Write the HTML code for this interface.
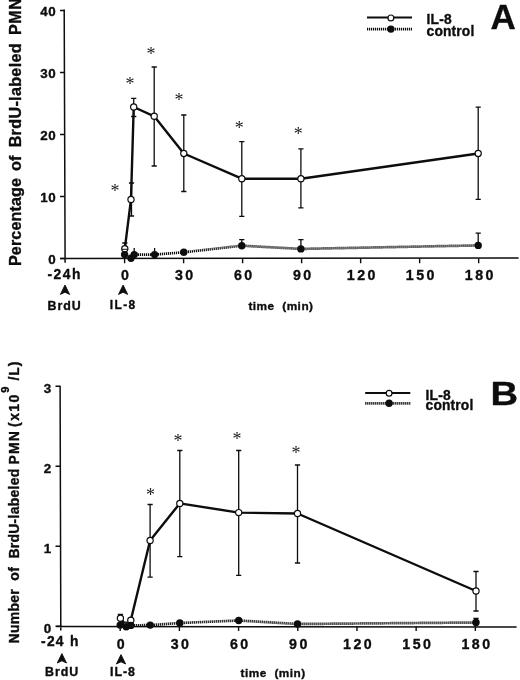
<!DOCTYPE html>
<html lang="en">
<head>
<meta charset="utf-8">
<title>BrdU-labeled PMN after IL-8</title>
<style>
html,body{margin:0;padding:0;background:#fff;}
body{width:520px;height:680px;overflow:hidden;}
svg{display:block;will-change:transform;}
text{font-family:"Liberation Sans",sans-serif;font-weight:bold;fill:#0d0d0d;stroke:#0d0d0d;stroke-width:.35px;stroke-linejoin:round;}
.tk{font-size:13.8px;letter-spacing:1px;}
.xt{font-size:14.2px;letter-spacing:2.5px;text-anchor:middle;}
.yt{font-size:13.4px;letter-spacing:.7px;text-anchor:end;}
.sm{font-size:12.4px;letter-spacing:.95px;}
.lg{font-size:13.8px;letter-spacing:.15px;}
.big{font-size:35px;}
.st{font-family:"Liberation Serif","DejaVu Serif",serif;font-weight:normal;text-anchor:middle;fill:#1a1a1a;stroke:none;}
</style>
</head>
<body>
<svg width="520" height="680" viewBox="0 0 520 680">

<!-- panel A -->
<g id="panelA">
<path d="M64.2 9.4L65.1 262.7M60.5 258.5L518.6 257.9" stroke="#0d0d0d" stroke-width="1.5" fill="none"/>
<path d="M60 258.5H64.5M60 196.5H64.5M60 134.5H64.5M60 72.5H64.5M60 10.5H64.5M124.6 258.5V263.2M183.61 258.5V263.2M242.62 258.5V263.2M301.63 258.5V263.2M360.64 258.5V263.2M419.65 258.5V263.2M478.66 258.5V263.2" stroke="#0d0d0d" stroke-width="1.4" fill="none"/>
<text x="56.5" y="264.4" class="yt">0</text>
<text x="56.5" y="202.4" class="yt">10</text>
<text x="56.5" y="140.4" class="yt">20</text>
<text x="56.5" y="78.4" class="yt">30</text>
<text x="56.5" y="16.4" class="yt">40</text>
<text x="126.3" y="280.1" class="xt">0</text>
<text x="185.31" y="280.1" class="xt">30</text>
<text x="244.32" y="280.1" class="xt">60</text>
<text x="303.33" y="280.1" class="xt">90</text>
<text x="362.34" y="280.1" class="xt">120</text>
<text x="421.35" y="280.1" class="xt">150</text>
<text x="480.36" y="280.1" class="xt">180</text>
<text transform="translate(20.8 266) rotate(-90)" font-size="16.15px" letter-spacing="0.1px" word-spacing="4.7px">Percentage<tspan dx="-2.2"> of</tspan><tspan dx="-1.4" letter-spacing="0.32px"> BrdU-labeled</tspan><tspan dx="-1.6" letter-spacing="0.5px"> PMN</tspan></text>
<path d="M124.8 243V248.8M122.2 243H127.4M122.2 248.8H127.4M131.5 183V216M128.9 183H134.1M128.9 216H134.1M133.7 98.3V116.5M131.1 98.3H136.3M131.1 116.5H136.3M154.2 67V166M151.6 67H156.8M151.6 166H156.8M183.8 115V191.5M181.2 115H186.4M181.2 191.5H186.4M241.8 141.6V216.3M239.2 141.6H244.4M239.2 216.3H244.4M300.9 148.8V207.8M298.3 148.8H303.5M298.3 207.8H303.5M478.2 107.2V199.3M475.6 107.2H480.8M475.6 199.3H480.8" stroke="#0d0d0d" stroke-width="1.3" fill="none"/>
<polyline points="124.8,248.8 131,199.4 133.7,107 154.2,116.3 183.8,153.5 241.8,178.7 300.9,178.7 478.2,153.5" fill="none" stroke="#0d0d0d" stroke-width="2.4" stroke-linejoin="round"/>
<circle cx="124.8" cy="248.8" r="3.1" fill="#fff" stroke="#0d0d0d" stroke-width="1.2"/>
<circle cx="131" cy="199.4" r="3.1" fill="#fff" stroke="#0d0d0d" stroke-width="1.2"/>
<circle cx="133.7" cy="107" r="3.1" fill="#fff" stroke="#0d0d0d" stroke-width="1.2"/>
<circle cx="154.2" cy="116.3" r="3.1" fill="#fff" stroke="#0d0d0d" stroke-width="1.2"/>
<circle cx="183.8" cy="153.5" r="3.1" fill="#fff" stroke="#0d0d0d" stroke-width="1.2"/>
<circle cx="241.8" cy="178.7" r="3.1" fill="#fff" stroke="#0d0d0d" stroke-width="1.2"/>
<circle cx="300.9" cy="178.7" r="3.1" fill="#fff" stroke="#0d0d0d" stroke-width="1.2"/>
<circle cx="478.2" cy="153.5" r="3.1" fill="#fff" stroke="#0d0d0d" stroke-width="1.2"/>
<path d="M134.2 248V254.6M134.2 248H134.2M154.6 248V254.6M154.6 248H154.6M241.8 239.6V245.7M239.2 239.6H244.4M239.2 245.7H244.4M300.9 239.6V248.9M298.3 239.6H303.5M298.3 248.9H303.5M478.2 233.2V245.4M475.6 233.2H480.8M475.6 245.4H480.8" stroke="#0d0d0d" stroke-width="1.3" fill="none"/>
<polyline points="124.6,254.6 131,258.3 134.2,254.6 154.6,254.6 183.8,252.3 241.8,245.7 300.9,248.9 478.2,245.4" fill="none" stroke="#0d0d0d" stroke-width="2.7" stroke-dasharray="1.2 0.8"/>
<circle cx="124.6" cy="254.6" r="3.7" fill="#0d0d0d"/>
<circle cx="131" cy="258.3" r="3.7" fill="#0d0d0d"/>
<circle cx="134.2" cy="254.6" r="3.7" fill="#0d0d0d"/>
<circle cx="154.6" cy="254.6" r="3.7" fill="#0d0d0d"/>
<circle cx="183.8" cy="252.3" r="3.7" fill="#0d0d0d"/>
<circle cx="241.8" cy="245.7" r="3.7" fill="#0d0d0d"/>
<circle cx="300.9" cy="248.9" r="3.7" fill="#0d0d0d"/>
<circle cx="478.2" cy="245.4" r="3.7" fill="#0d0d0d"/>
<text x="115" y="196.9" class="st" font-size="18">*</text>
<text x="130" y="90" class="st" font-size="18">*</text>
<text x="151" y="59.8" class="st" font-size="18">*</text>
<text x="179" y="105.9" class="st" font-size="18">*</text>
<text x="239.2" y="134.4" class="st" font-size="18">*</text>
<text x="298.2" y="140.2" class="st" font-size="18">*</text>
<path d="M65 285l4.6 9.4l-4.6 -2.2l-4.6 2.2z" fill="#0d0d0d" stroke="#0d0d0d" stroke-width="0.9" stroke-linejoin="round"/>
<path d="M123.1 285l4.6 9.4l-4.6 -2.2l-4.6 2.2z" fill="#0d0d0d" stroke="#0d0d0d" stroke-width="0.9" stroke-linejoin="round"/>
<path d="M367 17.6H412" stroke="#0d0d0d" stroke-width="2"/>
<circle cx="390.9" cy="17.9" r="2.9" fill="#fff" stroke="#0d0d0d" stroke-width="1.2"/>
<path d="M367 29.1H412" stroke="#0d0d0d" stroke-width="2.7" stroke-dasharray="1.2 0.8"/>
<circle cx="390.9" cy="29.1" r="3.7" fill="#0d0d0d"/>
<text x="426.6" y="24.1" class="lg">IL-8</text>
<text x="426.6" y="35.8" class="lg">control</text>
<text x="490.5" y="28.9" class="big">A</text>
</g>
<text x="47.5" y="278.7" class="tk" style="letter-spacing:1.5px">-24h</text>
<path d="M121.6 249.3H128" stroke="#0d0d0d" stroke-width="1"/>
<text x="47.5" y="309.5" class="sm">BrdU</text>
<text x="109.7" y="308.5" class="sm" style="font-size:12px;letter-spacing:1.4px">IL-8</text>
<text x="248.4" y="309.5" class="sm" style="font-size:11.8px;letter-spacing:.5px" xml:space="preserve">time  (min)</text>
<!-- panel B -->
<g id="panelB">
<path d="M60.1 385.7L60.8 630.6M56.2 626.4L516.6 627.1" stroke="#0d0d0d" stroke-width="1.5" fill="none"/>
<path d="M55.5 626.3H60M55.5 546.3H60M55.5 466.3H60M55.5 386.3H60M120.2 626.3V631M179.39 626.3V631M238.58 626.3V631M297.77 626.3V631M356.96 626.3V631M416.15 626.3V631M475.34 626.3V631" stroke="#0d0d0d" stroke-width="1.4" fill="none"/>
<text x="52" y="632.9" class="yt">0</text>
<text x="52" y="552.9" class="yt">1</text>
<text x="52" y="472.9" class="yt">2</text>
<text x="52" y="392.9" class="yt">3</text>
<text x="121.9" y="648.7" class="xt">0</text>
<text x="181.09" y="648.7" class="xt">30</text>
<text x="240.28" y="648.7" class="xt">60</text>
<text x="299.47" y="648.7" class="xt">90</text>
<text x="358.66" y="648.7" class="xt">120</text>
<text x="417.85" y="648.7" class="xt">150</text>
<text x="477.04" y="648.7" class="xt">180</text>
<text transform="translate(18.7 643.4) rotate(-90)" font-size="14px" letter-spacing="0.25px" word-spacing="4.2px">Number of BrdU-labeled<tspan dx="-5.2" letter-spacing="1.1px"> PMN</tspan><tspan dx="-6.3" letter-spacing="1.4px"> (x10</tspan><tspan dx="0.6" dy="-10" font-size="11px" letter-spacing="0">9</tspan><tspan dy="10" dx="-3" letter-spacing=".9px"> /L)</tspan></text>
<path d="M120.4 614.4V618.2M117.8 614.4H123M117.8 618.2H123M150.1 504.5V577.2M147.5 504.5H152.7M147.5 577.2H152.7M179.8 450.5V556.7M177.2 450.5H182.4M177.2 556.7H182.4M238.7 450.5V575.4M236.1 450.5H241.3M236.1 575.4H241.3M297.5 465V563M294.9 465H300.1M294.9 563H300.1M476 571.5V611M473.4 571.5H478.6M473.4 611H478.6" stroke="#0d0d0d" stroke-width="1.3" fill="none"/>
<polyline points="120.4,618.2 126,625.2 130.8,620.3 150.1,540.5 179.8,503.4 238.7,512.6 297.5,513.5 476,591" fill="none" stroke="#0d0d0d" stroke-width="2.4" stroke-linejoin="round"/>
<circle cx="120.4" cy="618.2" r="3.1" fill="#fff" stroke="#0d0d0d" stroke-width="1.2"/>
<circle cx="126" cy="625.2" r="3.1" fill="#fff" stroke="#0d0d0d" stroke-width="1.2"/>
<circle cx="130.8" cy="620.3" r="3.1" fill="#fff" stroke="#0d0d0d" stroke-width="1.2"/>
<circle cx="150.1" cy="540.5" r="3.1" fill="#fff" stroke="#0d0d0d" stroke-width="1.2"/>
<circle cx="179.8" cy="503.4" r="3.1" fill="#fff" stroke="#0d0d0d" stroke-width="1.2"/>
<circle cx="238.7" cy="512.6" r="3.1" fill="#fff" stroke="#0d0d0d" stroke-width="1.2"/>
<circle cx="297.5" cy="513.5" r="3.1" fill="#fff" stroke="#0d0d0d" stroke-width="1.2"/>
<circle cx="476" cy="591" r="3.1" fill="#fff" stroke="#0d0d0d" stroke-width="1.2"/>
<path d="M476 618.5V622.5M473.4 618.5H478.6M473.4 622.5H478.6" stroke="#0d0d0d" stroke-width="1.3" fill="none"/>
<polyline points="120.2,625.1 126.2,626.8 130.8,625.4 150.2,625.1 179.8,623 238.7,620.5 297.5,624 476,622.5" fill="none" stroke="#0d0d0d" stroke-width="2.7" stroke-dasharray="1.2 0.8"/>
<circle cx="120.2" cy="625.1" r="3.7" fill="#0d0d0d"/>
<circle cx="126.2" cy="626.8" r="3.7" fill="#0d0d0d"/>
<circle cx="130.8" cy="625.4" r="3.7" fill="#0d0d0d"/>
<circle cx="150.2" cy="625.1" r="3.7" fill="#0d0d0d"/>
<circle cx="179.8" cy="623" r="3.7" fill="#0d0d0d"/>
<circle cx="238.7" cy="620.5" r="3.7" fill="#0d0d0d"/>
<circle cx="297.5" cy="624" r="3.7" fill="#0d0d0d"/>
<circle cx="476" cy="622.5" r="3.7" fill="#0d0d0d"/>
<text x="150.5" y="501" class="st" font-size="18">*</text>
<text x="178" y="446.6" class="st" font-size="18">*</text>
<text x="237" y="444.5" class="st" font-size="18">*</text>
<text x="296" y="459.2" class="st" font-size="18">*</text>
<path d="M61.9 653.6l4.6 9.4l-4.6 -2.2l-4.6 2.2z" fill="#0d0d0d" stroke="#0d0d0d" stroke-width="0.9" stroke-linejoin="round"/>
<path d="M121 654.6l4.6 9.4l-4.6 -2.2l-4.6 2.2z" fill="#0d0d0d" stroke="#0d0d0d" stroke-width="0.9" stroke-linejoin="round"/>
<path d="M365.2 393H410.3" stroke="#0d0d0d" stroke-width="2"/>
<circle cx="389.1" cy="393.3" r="2.9" fill="#fff" stroke="#0d0d0d" stroke-width="1.2"/>
<path d="M365.2 403.3H410.3" stroke="#0d0d0d" stroke-width="2.7" stroke-dasharray="1.2 0.8"/>
<circle cx="389.1" cy="403.3" r="3.7" fill="#0d0d0d"/>
<text x="425.6" y="399.7" class="lg">IL-8</text>
<text x="425.6" y="410.2" class="lg">control</text>
<text x="490.5" y="404.6" class="big" style="font-size:34px" textLength="27.6" lengthAdjust="spacingAndGlyphs">B</text>
</g>
<text x="41" y="645.8" class="tk" style="letter-spacing:1.3px" xml:space="preserve">-24 h</text>
<text x="45" y="675.8" class="sm">BrdU</text>
<text x="110" y="675.8" class="sm">IL-8</text>
<text x="240.6" y="676.6" class="sm" style="font-size:11.8px;letter-spacing:.5px" xml:space="preserve">time  (min)</text>
</svg>
</body>
</html>
